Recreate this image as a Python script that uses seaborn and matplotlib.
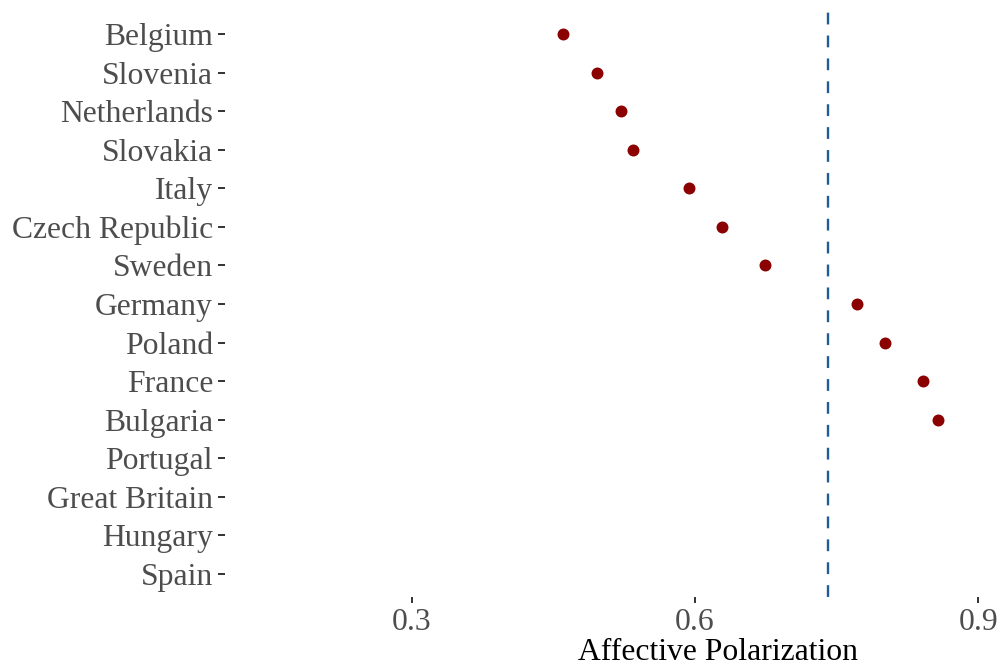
import matplotlib
matplotlib.use("Agg")
import matplotlib.pyplot as plt
import seaborn as sns
import numpy as np
import pandas as pd

countries = ["Belgium", "Slovenia", "Netherlands", "Slovakia", "Italy",
             "Czech Republic", "Sweden", "Germany", "Poland", "France",
             "Bulgaria", "Portugal", "Great Britain", "Hungary", "Spain"]
polarization = [0.460, 0.496, 0.522, 0.534, 0.594,
                0.629, 0.674, 0.772, 0.801, 0.842,
                0.858, np.nan, np.nan, np.nan, np.nan]
reference_line = 0.741
x_ticks = [0.3, 0.6, 0.9]
x_tick_labels = ["0.3", "0.6", "0.9"]

df = pd.DataFrame({"country": countries, "value": polarization})

sns.set_theme(style="white")
plt.rcParams["font.family"] = ["Liberation Serif", "DejaVu Serif"]

fig = plt.figure(figsize=(9.98, 6.67), dpi=100)
ax = fig.add_axes([225/998, 1 - 597/667, 1 - 225/998, (597 - 10.9)/667])

sns.stripplot(data=df, x="value", y="country", order=countries, jitter=False,
              color="#8B0000", size=8.6, linewidth=0, ax=ax)
ax.axvline(reference_line, color="#1f5c99", lw=1.7, ls=(0, (5.0, 4.7)))

ax.set_xlim(0.1022, 0.9211)
ax.set_ylim(len(countries) - 0.4, -0.6)
ax.set_xticks(x_ticks)
ax.set_xticklabels(x_tick_labels)
for s in ax.spines.values():
    s.set_visible(False)
ax.grid(False)
ax.tick_params(axis="x", length=4.3, width=1.4, color="#333333", pad=3.6,
               labelsize=22.8, labelcolor="#4D4D4D", bottom=True)
ax.tick_params(axis="y", length=5, width=1.4, color="#333333", pad=3.6,
               labelsize=22.8, labelcolor="#4D4D4D", left=True)
ax.set_ylabel("")
ax.set_xlabel("Affective Polarization", fontsize=22.8, color="black", va="baseline")
ax.xaxis.set_label_coords(718/998, 1 - 660/667, transform=fig.transFigure)

fig.savefig("out.png", dpi=100)
